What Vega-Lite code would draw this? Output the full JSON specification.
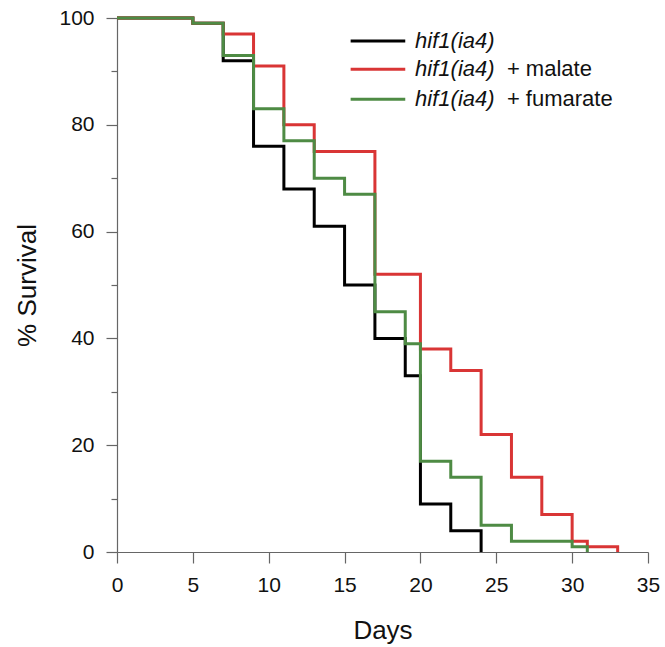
{
  "$schema": "https://vega.github.io/schema/vega-lite/v6.json",
  "width": 531,
  "height": 534,
  "autosize": {"type": "none"},
  "padding": {"left": 117, "top": 18, "right": 17, "bottom": 95},
  "config": {
    "view": {"stroke": null},
    "font": "Liberation Sans",
    "axis": {"grid": false, "domainColor": "#666666", "tickColor": "#666666", "labelColor": "#111111", "titleColor": "#111111", "labelFont": "Liberation Sans", "titleFont": "Liberation Sans", "labelFontSize": 21, "titleFontSize": 26, "titleFontWeight": "normal", "tickSize": 11, "domainWidth": 1.2, "tickWidth": 1.2, "labelFlush": false}
  },
  "datasets": {
    "surv": [
      {"group": "hif1(ia4)", "day": 0, "survival": 100},
      {"group": "hif1(ia4)", "day": 5, "survival": 99},
      {"group": "hif1(ia4)", "day": 7, "survival": 92},
      {"group": "hif1(ia4)", "day": 9, "survival": 76},
      {"group": "hif1(ia4)", "day": 11, "survival": 68},
      {"group": "hif1(ia4)", "day": 13, "survival": 61},
      {"group": "hif1(ia4)", "day": 15, "survival": 50},
      {"group": "hif1(ia4)", "day": 17, "survival": 40},
      {"group": "hif1(ia4)", "day": 19, "survival": 33},
      {"group": "hif1(ia4)", "day": 20, "survival": 9},
      {"group": "hif1(ia4)", "day": 22, "survival": 4},
      {"group": "hif1(ia4)", "day": 24, "survival": 0},
      {"group": "hif1(ia4) + malate", "day": 0, "survival": 100},
      {"group": "hif1(ia4) + malate", "day": 5, "survival": 99},
      {"group": "hif1(ia4) + malate", "day": 7, "survival": 97},
      {"group": "hif1(ia4) + malate", "day": 9, "survival": 91},
      {"group": "hif1(ia4) + malate", "day": 11, "survival": 80},
      {"group": "hif1(ia4) + malate", "day": 13, "survival": 75},
      {"group": "hif1(ia4) + malate", "day": 17, "survival": 52},
      {"group": "hif1(ia4) + malate", "day": 20, "survival": 38},
      {"group": "hif1(ia4) + malate", "day": 22, "survival": 34},
      {"group": "hif1(ia4) + malate", "day": 24, "survival": 22},
      {"group": "hif1(ia4) + malate", "day": 26, "survival": 14},
      {"group": "hif1(ia4) + malate", "day": 28, "survival": 7},
      {"group": "hif1(ia4) + malate", "day": 30, "survival": 2},
      {"group": "hif1(ia4) + malate", "day": 31, "survival": 1},
      {"group": "hif1(ia4) + malate", "day": 33, "survival": 0},
      {"group": "hif1(ia4) + fumarate", "day": 0, "survival": 100},
      {"group": "hif1(ia4) + fumarate", "day": 5, "survival": 99},
      {"group": "hif1(ia4) + fumarate", "day": 7, "survival": 93},
      {"group": "hif1(ia4) + fumarate", "day": 9, "survival": 83},
      {"group": "hif1(ia4) + fumarate", "day": 11, "survival": 77},
      {"group": "hif1(ia4) + fumarate", "day": 13, "survival": 70},
      {"group": "hif1(ia4) + fumarate", "day": 15, "survival": 67},
      {"group": "hif1(ia4) + fumarate", "day": 17, "survival": 45},
      {"group": "hif1(ia4) + fumarate", "day": 19, "survival": 39},
      {"group": "hif1(ia4) + fumarate", "day": 20, "survival": 17},
      {"group": "hif1(ia4) + fumarate", "day": 22, "survival": 14},
      {"group": "hif1(ia4) + fumarate", "day": 24, "survival": 5},
      {"group": "hif1(ia4) + fumarate", "day": 26, "survival": 2},
      {"group": "hif1(ia4) + fumarate", "day": 30, "survival": 1},
      {"group": "hif1(ia4) + fumarate", "day": 31, "survival": 0}
    ]
  },
  "resolve": {"axis": {"y": "independent"}},
  "layer": [
    {
      "data": {"name": "surv"},
      "mark": {"type": "line", "interpolate": "step-after", "strokeWidth": 3},
      "encoding": {
        "x": {"field": "day", "type": "quantitative", "scale": {"domain": [0, 35], "nice": false}, "axis": {"values": [0, 5, 10, 15, 20, 25, 30, 35], "title": "Days", "labelPadding": 11, "titlePadding": 22}},
        "y": {"field": "survival", "type": "quantitative", "scale": {"domain": [0, 100], "nice": false}, "axis": {"values": [0, 20, 40, 60, 80, 100], "title": "% Survival", "labelPadding": 12, "titlePadding": 18}},
        "color": {"field": "group", "type": "nominal", "scale": {"domain": ["hif1(ia4)", "hif1(ia4) + malate", "hif1(ia4) + fumarate"], "range": ["#000000", "#d93535", "#4e8b44"]}, "legend": null}
      }
    },
    {
      "data": {"values": [{"v": 10}, {"v": 30}, {"v": 50}, {"v": 70}, {"v": 90}]},
      "mark": {"type": "point", "opacity": 0},
      "encoding": {
        "x": {"datum": 0},
        "y": {"field": "v", "type": "quantitative", "scale": {"domain": [0, 100], "nice": false}, "axis": {"orient": "left", "values": [10, 30, 50, 70, 90], "labels": false, "domain": false, "title": null, "tickSize": 6}}
      }
    },
    {
      "data": {"values": [{}]},
      "mark": {"type": "rule", "strokeWidth": 3, "color": "#000000"},
      "encoding": {"x": {"datum": 15.4}, "x2": {"datum": 19.0}, "y": {"datum": 95.7, "axis": null}}
    },
    {
      "data": {"values": [{}]},
      "mark": {"type": "rule", "strokeWidth": 3, "color": "#d93535"},
      "encoding": {"x": {"datum": 15.4}, "x2": {"datum": 19.0}, "y": {"datum": 90.4, "axis": null}}
    },
    {
      "data": {"values": [{}]},
      "mark": {"type": "rule", "strokeWidth": 3, "color": "#4e8b44"},
      "encoding": {"x": {"datum": 15.4}, "x2": {"datum": 19.0}, "y": {"datum": 84.8, "axis": null}}
    },
    {
      "data": {"values": [{"t": "hif1(ia4)", "y": 95.7}, {"t": "hif1(ia4)", "y": 90.4}, {"t": "hif1(ia4)", "y": 84.8}]},
      "mark": {"type": "text", "align": "left", "baseline": "middle", "fontSize": 22, "fontStyle": "italic", "font": "Liberation Sans", "color": "#111111"},
      "encoding": {"x": {"datum": 19.65}, "y": {"field": "y", "type": "quantitative", "axis": null}, "text": {"field": "t"}}
    },
    {
      "data": {"values": [{"t": "+ malate", "y": 90.4}, {"t": "+ fumarate", "y": 84.8}]},
      "mark": {"type": "text", "align": "left", "baseline": "middle", "fontSize": 22, "font": "Liberation Sans", "color": "#111111"},
      "encoding": {"x": {"datum": 25.7}, "y": {"field": "y", "type": "quantitative", "axis": null}, "text": {"field": "t"}}
    }
  ]
}
